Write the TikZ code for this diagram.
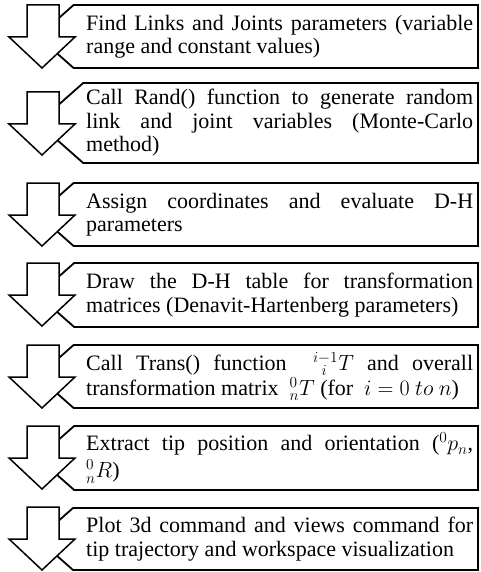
\RequirePackage{fix-cm}
\documentclass[tikz,border=0pt]{standalone}
\usepackage{fontspec}
\setmainfont{Liberation Serif}
\tikzset{
  box/.style={draw=black, line width=1.8pt, fill=white, line join=miter},
  downarrow/.style={draw=black, line width=1.5pt, fill=white, line join=miter},
  txt/.style={anchor=west, inner sep=0pt, text width=387pt, align=justify,
    font=\fontsize{22}{23.5}\selectfont}
}
\newcommand\flowrow[6][]{%
  \pgfmathsetmacro\rowmidy{(#3+#4)/2}%
  \pgfmathsetmacro\rowcornx{38+(#4-#3)/2*1.13}%
  \pgfmathsetmacro\arrmid{#5+32}%
  \pgfmathsetmacro\arrtip{#5+63}%
  \draw[box] (\rowcornx,#3) -- (478,#3) -- (478,#4) -- (\rowcornx,#4) -- (38,\rowmidy) -- cycle;
  \draw[downarrow] (27,#5) -- (59,#5) -- (59,\arrmid) -- (75,\arrmid) -- (42,\arrtip) -- (9,\arrmid) -- (27,\arrmid) -- cycle;
  \node[txt,#1] (#2) at (86,\rowmidy) {\hyphenpenalty=10000 #6};
}
\begin{document}
\begin{tikzpicture}[x=1pt,y=-1pt]
\useasboundingbox (0,0) rectangle (481,572);
\flowrow{s1}{5}{68}{5}{Find Links and Joints parameters (variable\linebreak range and constant values)}
\flowrow{s2}{83}{163}{92}{Call Rand() function to generate random\linebreak link and joint variables (Monte-Carlo\linebreak method)}
\flowrow{s3}{183}{246}{183}{Assign coordinates and evaluate D-H\linebreak parameters}
\flowrow{s4}{263}{327}{263}{Draw the D-H table for transformation\linebreak matrices (Denavit-Hartenberg parameters)}
\flowrow[font=\fontsize{22}{25}\selectfont]{s5}{345}{408}{345}{Call Trans() function \ ${}^{i-1}_{\;\;i}T$ and overall\linebreak transformation matrix \ ${}^{0}_{n}T$ (for \ $i=0\ to\ n$)}
\flowrow[font=\fontsize{22}{27}\selectfont]{s6}{426}{490}{426}{Extract tip position and orientation (${}^{0}p_{n}$,\linebreak ${}^{0}_{n}R$)}
\flowrow{s7}{508}{570}{507}{Plot 3d command and views command for\linebreak tip trajectory and workspace visualization}
\end{tikzpicture}
\end{document}
